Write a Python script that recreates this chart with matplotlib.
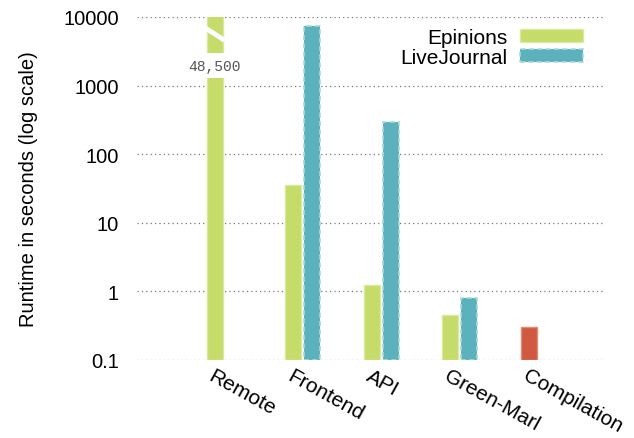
import matplotlib
matplotlib.use("Agg")
import matplotlib.pyplot as plt
import numpy as np
from matplotlib.ticker import FixedLocator, FixedFormatter, NullLocator

plt.rcParams['font.family'] = ['Liberation Sans', 'DejaVu Sans']

categories = ["Remote", "Frontend", "API", "Green-Marl", "Compilation"]
epinions = [48500, 35, 1.24, 0.45, np.nan]
livejournal = [np.nan, 7500, 295, 0.8, np.nan]
compilation = [np.nan, np.nan, np.nan, np.nan, 0.30]
yticks = [0.1, 1, 10, 100, 1000, 10000]
ytick_labels = ["0.1", "1", "10", "100", "1000", "10000"]
remote_label = "48,500"

c_ep = "#c5dc6b"
c_ep_edge = "#d9e99d"
c_lj = "#5bb2bc"
c_lj_edge = "#a8d9de"
c_comp = "#d05a41"
c_comp_edge = "#e08a78"

fig = plt.figure(figsize=(6.34, 4.39), dpi=100)
ax = fig.add_axes([0.216, 0.178, 0.738, 0.781])

x = np.arange(len(categories))
w = 0.205
off = 0.121
bottom = 0.1

ep_h = [v - bottom for v in epinions]
lj_h = [v - bottom for v in livejournal]
cp_h = [v - bottom for v in compilation]

ax.bar(x - off, ep_h, w, bottom=bottom, color=c_ep, edgecolor=c_ep_edge,
       linewidth=1, label="Epinions", zorder=3)
ax.bar(x + off, lj_h, w, bottom=bottom, color=c_lj, edgecolor=c_lj_edge,
       linewidth=1.2, linestyle=(0, (3, 2)), label="LiveJournal", zorder=3)
ax.bar(x - off, cp_h, w, bottom=bottom, color=c_comp, edgecolor=c_comp_edge,
       linewidth=1, zorder=3)

ax.set_yscale('log')
ax.set_ylim(0.1, 10000)
ax.set_xlim(-1.115, 4.847)
ax.yaxis.set_major_locator(FixedLocator(yticks))
ax.yaxis.set_major_formatter(FixedFormatter(ytick_labels))
ax.yaxis.set_minor_locator(NullLocator())
ax.grid(axis='y', which='major', linestyle=(0, (1, 2.5)), color='#777777',
        linewidth=0.9, zorder=1)
for s in ax.spines.values():
    s.set_visible(False)
ax.tick_params(axis='y', length=0, labelsize=14.5, pad=13)

ax.set_xticks(x - off)
ax.set_xticklabels(categories, rotation=-29, ha='left', va='top',
                   rotation_mode='anchor', fontsize=15)
ax.tick_params(axis='x', length=0, pad=4)

ax.set_ylabel("Runtime in seconds (log scale)", fontsize=14.5, labelpad=18)

# break marker on the Remote bar
x0 = x[0] - off
ax.plot([x0 - w / 2 - 0.02, x0 + w / 2 + 0.02], [10 ** 3.84, 10 ** 3.66],
        color='white', linewidth=3.5, zorder=4, solid_capstyle='butt')
ax.text(x0, 10 ** 3.29, remote_label, ha='center', va='center',
        family=['Liberation Mono', 'DejaVu Sans Mono'], fontsize=10.5,
        color='#555555', zorder=5,
        bbox=dict(facecolor='white', edgecolor='none', pad=4))

leg = ax.legend(loc='upper right', bbox_to_anchor=(0.953, 0.969), frameon=False,
                markerfirst=False, fontsize=15, handlelength=3.0,
                handleheight=0.55, labelspacing=0.05, handletextpad=0.6,
                borderaxespad=0, borderpad=0)

fig.savefig("out.png", dpi=100)
